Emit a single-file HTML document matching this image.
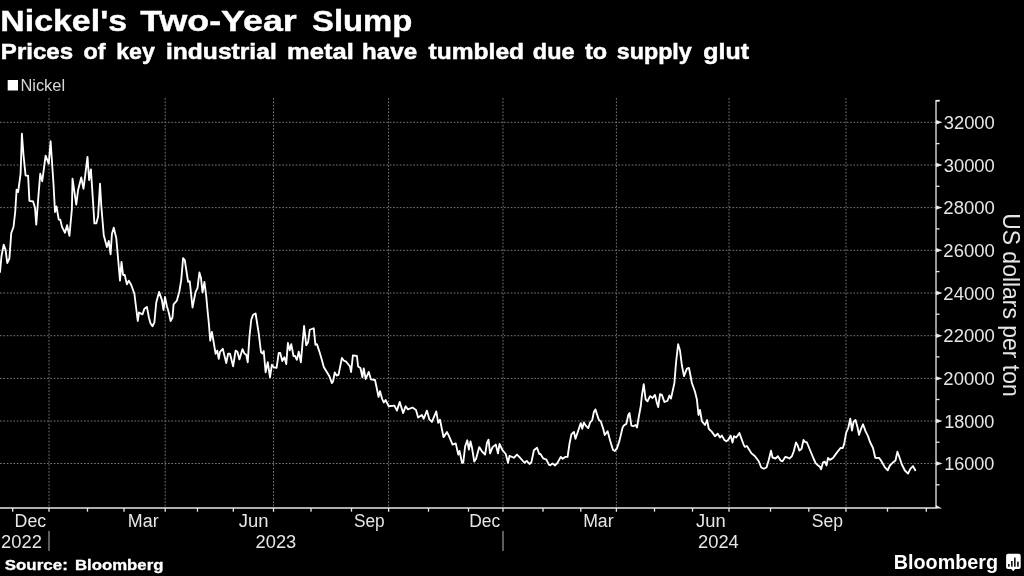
<!DOCTYPE html>
<html><head><meta charset="utf-8"><title>Nickel's Two-Year Slump</title>
<style>html,body{margin:0;padding:0;background:#000;width:1024px;height:576px;overflow:hidden}svg{display:block;will-change:transform}</style></head>
<body>
<svg width="1024" height="576" viewBox="0 0 1024 576">
<rect width="1024" height="576" fill="#000"/>
<g stroke="#757575" stroke-width="1" stroke-dasharray="1.7 1.66" fill="none">
<line x1="0" y1="122.3" x2="936" y2="122.3"/>
<line x1="0" y1="165" x2="936" y2="165"/>
<line x1="0" y1="207.6" x2="936" y2="207.6"/>
<line x1="0" y1="250.3" x2="936" y2="250.3"/>
<line x1="0" y1="293" x2="936" y2="293"/>
<line x1="0" y1="335.7" x2="936" y2="335.7"/>
<line x1="0" y1="378.4" x2="936" y2="378.4"/>
<line x1="0" y1="421" x2="936" y2="421"/>
<line x1="0" y1="463.5" x2="936" y2="463.5"/>
<line x1="49" y1="98.0" x2="49" y2="508"/>
<line x1="165.2" y1="98.0" x2="165.2" y2="508"/>
<line x1="273.5" y1="98.0" x2="273.5" y2="508"/>
<line x1="388.6" y1="98.0" x2="388.6" y2="508"/>
<line x1="503" y1="98.0" x2="503" y2="508"/>
<line x1="616.4" y1="98.0" x2="616.4" y2="508"/>
<line x1="729" y1="98.0" x2="729" y2="508"/>
<line x1="846" y1="98.0" x2="846" y2="508"/>
</g>
<g stroke="#e8e8e8" stroke-width="1.3" fill="none">
<line x1="0" y1="508" x2="936.6" y2="508"/>
<line x1="936" y1="99.9" x2="936" y2="508"/>
<line x1="936" y1="100.5" x2="939.8" y2="100.5"/>
<line x1="49" y1="508" x2="49" y2="511.8"/>
<line x1="165.2" y1="508" x2="165.2" y2="511.8"/>
<line x1="273.5" y1="508" x2="273.5" y2="511.8"/>
<line x1="388.6" y1="508" x2="388.6" y2="511.8"/>
<line x1="503" y1="508" x2="503" y2="511.8"/>
<line x1="616.4" y1="508" x2="616.4" y2="511.8"/>
<line x1="729" y1="508" x2="729" y2="511.8"/>
<line x1="846" y1="508" x2="846" y2="511.8"/>
<line x1="12.7" y1="508" x2="12.7" y2="511.7"/>
<line x1="87.5" y1="508" x2="87.5" y2="511.7"/>
<line x1="124" y1="508" x2="124" y2="511.7"/>
<line x1="197.5" y1="508" x2="197.5" y2="511.7"/>
<line x1="233.3" y1="508" x2="233.3" y2="511.7"/>
<line x1="311" y1="508" x2="311" y2="511.7"/>
<line x1="351.5" y1="508" x2="351.5" y2="511.7"/>
<line x1="428.5" y1="508" x2="428.5" y2="511.7"/>
<line x1="468.5" y1="508" x2="468.5" y2="511.7"/>
<line x1="543" y1="508" x2="543" y2="511.7"/>
<line x1="580.8" y1="508" x2="580.8" y2="511.7"/>
<line x1="654.5" y1="508" x2="654.5" y2="511.7"/>
<line x1="692.5" y1="508" x2="692.5" y2="511.7"/>
<line x1="770.5" y1="508" x2="770.5" y2="511.7"/>
<line x1="808.8" y1="508" x2="808.8" y2="511.7"/>
<line x1="887.5" y1="508" x2="887.5" y2="511.7"/>
<line x1="926.3" y1="508" x2="926.3" y2="511.7"/>
<line x1="936" y1="101.0" x2="939.5" y2="101.0"/>
<line x1="936" y1="143.6" x2="939.5" y2="143.6"/>
<line x1="936" y1="186.3" x2="939.5" y2="186.3"/>
<line x1="936" y1="228.9" x2="939.5" y2="228.9"/>
<line x1="936" y1="271.6" x2="939.5" y2="271.6"/>
<line x1="936" y1="314.2" x2="939.5" y2="314.2"/>
<line x1="936" y1="356.9" x2="939.5" y2="356.9"/>
<line x1="936" y1="399.5" x2="939.5" y2="399.5"/>
<line x1="936" y1="442.2" x2="939.5" y2="442.2"/>
<line x1="936" y1="484.8" x2="939.5" y2="484.8"/>
</g>
<path d="M936 120.1 L942.5 122.3 L936 124.5 Z" fill="#e8e8e8"/>
<path d="M936 162.8 L942.5 165 L936 167.2 Z" fill="#e8e8e8"/>
<path d="M936 205.4 L942.5 207.6 L936 209.79999999999998 Z" fill="#e8e8e8"/>
<path d="M936 248.10000000000002 L942.5 250.3 L936 252.5 Z" fill="#e8e8e8"/>
<path d="M936 290.8 L942.5 293 L936 295.2 Z" fill="#e8e8e8"/>
<path d="M936 333.5 L942.5 335.7 L936 337.9 Z" fill="#e8e8e8"/>
<path d="M936 376.2 L942.5 378.4 L936 380.59999999999997 Z" fill="#e8e8e8"/>
<path d="M936 418.8 L942.5 421 L936 423.2 Z" fill="#e8e8e8"/>
<path d="M936 461.3 L942.5 463.5 L936 465.7 Z" fill="#e8e8e8"/>
<path d="M936 505 L942 508.6 L936 508.6 Z" fill="#e8e8e8"/>
<g font-family="Liberation Sans, sans-serif">
<text x="0.28" y="31.3" font-size="30" font-weight="bold" stroke="#fff" stroke-width="0.4" fill="#fff" textLength="126.79" lengthAdjust="spacingAndGlyphs">Nickel&#39;s</text>
<text x="140.20" y="31.3" font-size="30" font-weight="bold" stroke="#fff" stroke-width="0.4" fill="#fff" textLength="156.56" lengthAdjust="spacingAndGlyphs">Two-Year</text>
<text x="311.99" y="31.3" font-size="30" font-weight="bold" stroke="#fff" stroke-width="0.4" fill="#fff" textLength="100.34" lengthAdjust="spacingAndGlyphs">Slump</text>
<text x="0.88" y="58.6" font-size="22.2" font-weight="bold" stroke="#fff" stroke-width="0.5" fill="#fff" textLength="72.13" lengthAdjust="spacingAndGlyphs">Prices</text>
<text x="83.46" y="58.6" font-size="22.2" font-weight="bold" stroke="#fff" stroke-width="0.5" fill="#fff" textLength="22.03" lengthAdjust="spacingAndGlyphs">of</text>
<text x="116.24" y="58.6" font-size="22.2" font-weight="bold" stroke="#fff" stroke-width="0.5" fill="#fff" textLength="38.61" lengthAdjust="spacingAndGlyphs">key</text>
<text x="165.94" y="58.6" font-size="22.2" font-weight="bold" stroke="#fff" stroke-width="0.5" fill="#fff" textLength="110.80" lengthAdjust="spacingAndGlyphs">industrial</text>
<text x="287.14" y="58.6" font-size="22.2" font-weight="bold" stroke="#fff" stroke-width="0.5" fill="#fff" textLength="66.66" lengthAdjust="spacingAndGlyphs">metal</text>
<text x="362.12" y="58.6" font-size="22.2" font-weight="bold" stroke="#fff" stroke-width="0.5" fill="#fff" textLength="54.94" lengthAdjust="spacingAndGlyphs">have</text>
<text x="428.53" y="58.6" font-size="22.2" font-weight="bold" stroke="#fff" stroke-width="0.5" fill="#fff" textLength="95.59" lengthAdjust="spacingAndGlyphs">tumbled</text>
<text x="532.80" y="58.6" font-size="22.2" font-weight="bold" stroke="#fff" stroke-width="0.5" fill="#fff" textLength="41.74" lengthAdjust="spacingAndGlyphs">due</text>
<text x="585.04" y="58.6" font-size="22.2" font-weight="bold" stroke="#fff" stroke-width="0.5" fill="#fff" textLength="22.12" lengthAdjust="spacingAndGlyphs">to</text>
<text x="616.77" y="58.6" font-size="22.2" font-weight="bold" stroke="#fff" stroke-width="0.5" fill="#fff" textLength="75.03" lengthAdjust="spacingAndGlyphs">supply</text>
<text x="703.24" y="58.6" font-size="22.2" font-weight="bold" stroke="#fff" stroke-width="0.5" fill="#fff" textLength="45.73" lengthAdjust="spacingAndGlyphs">glut</text>
<text x="20.42" y="91.3" font-size="16" fill="#d6d6d6" textLength="44.66" lengthAdjust="spacingAndGlyphs">Nickel</text>
<text x="943.69" y="128.8" font-size="18" fill="#e6e6e6" textLength="51.14" lengthAdjust="spacingAndGlyphs">32000</text>
<text x="943.69" y="171.5" font-size="18" fill="#e6e6e6" textLength="51.14" lengthAdjust="spacingAndGlyphs">30000</text>
<text x="943.37" y="214.1" font-size="18" fill="#e6e6e6" textLength="51.45" lengthAdjust="spacingAndGlyphs">28000</text>
<text x="943.37" y="256.8" font-size="18" fill="#e6e6e6" textLength="51.45" lengthAdjust="spacingAndGlyphs">26000</text>
<text x="943.37" y="299.5" font-size="18" fill="#e6e6e6" textLength="51.45" lengthAdjust="spacingAndGlyphs">24000</text>
<text x="943.37" y="342.2" font-size="18" fill="#e6e6e6" textLength="51.45" lengthAdjust="spacingAndGlyphs">22000</text>
<text x="943.37" y="384.9" font-size="18" fill="#e6e6e6" textLength="51.45" lengthAdjust="spacingAndGlyphs">20000</text>
<text x="944.20" y="427.5" font-size="18" fill="#e6e6e6" textLength="50.22" lengthAdjust="spacingAndGlyphs">18000</text>
<text x="944.20" y="470.0" font-size="18" fill="#e6e6e6" textLength="50.22" lengthAdjust="spacingAndGlyphs">16000</text>
<text x="14.62" y="527" font-size="18" fill="#e6e6e6" textLength="31.52" lengthAdjust="spacingAndGlyphs">Dec</text>
<text x="127.86" y="527" font-size="18" fill="#e6e6e6" textLength="30.73" lengthAdjust="spacingAndGlyphs">Mar</text>
<text x="238.70" y="527" font-size="18" fill="#e6e6e6" textLength="29.74" lengthAdjust="spacingAndGlyphs">Jun</text>
<text x="353.98" y="527" font-size="18" fill="#e6e6e6" textLength="30.70" lengthAdjust="spacingAndGlyphs">Sep</text>
<text x="469.14" y="527" font-size="18" fill="#e6e6e6" textLength="30.99" lengthAdjust="spacingAndGlyphs">Dec</text>
<text x="583.13" y="527" font-size="18" fill="#e6e6e6" textLength="30.41" lengthAdjust="spacingAndGlyphs">Mar</text>
<text x="696.05" y="527" font-size="18" fill="#e6e6e6" textLength="29.59" lengthAdjust="spacingAndGlyphs">Jun</text>
<text x="811.72" y="527" font-size="18" fill="#e6e6e6" textLength="31.22" lengthAdjust="spacingAndGlyphs">Sep</text>
<text x="1.08" y="548" font-size="18" fill="#e6e6e6" textLength="40.74" lengthAdjust="spacingAndGlyphs">2022</text>
<text x="255.59" y="548" font-size="18" fill="#e6e6e6" textLength="40.63" lengthAdjust="spacingAndGlyphs">2023</text>
<text x="698.09" y="548" font-size="18" fill="#e6e6e6" textLength="40.68" lengthAdjust="spacingAndGlyphs">2024</text>
<text x="4.74" y="569.6" font-size="14.6" font-weight="bold" stroke="#fff" stroke-width="0.3" fill="#fff" textLength="63.04" lengthAdjust="spacingAndGlyphs">Source:</text>
<text x="74.97" y="569.6" font-size="14.6" font-weight="bold" stroke="#fff" stroke-width="0.3" fill="#fff" textLength="88.49" lengthAdjust="spacingAndGlyphs">Bloomberg</text>
<text x="893.75" y="569.4" font-size="20.6" font-weight="bold" fill="#fff" textLength="104.28" lengthAdjust="spacingAndGlyphs">Bloomberg</text>
<text transform="translate(1003.4,213.15) rotate(90)" font-size="23.6" fill="#e6e6e6" textLength="183.53" lengthAdjust="spacingAndGlyphs">US dollars per ton</text>
</g>
<g stroke="#9a9a9a" stroke-width="1.2"><line x1="49" y1="531" x2="49" y2="551"/><line x1="503" y1="531" x2="503" y2="551"/></g>
<polyline points="0,272 1.5,256 3.75,244.8 5.6,250 7.25,263 9.4,258.5 11.25,233 13.5,227 15.25,211.5 16.6,189.6 18.1,192 18.75,187.5 20.6,173.75 21.9,133.75 23.5,155 25.6,175.6 28.1,175.6 29.4,200.9 33.1,201.5 35,207.75 36.25,224.6 38.1,200 38.75,192 40.25,173.75 42.25,181.25 45.6,155.6 48.75,163.75 50.6,141.25 53.5,184 55,212 56.5,206.5 58.75,219.6 60.25,219.6 62.1,227.1 65,232.75 67.1,225.25 69.4,235.9 71.9,209 72.5,178.75 76.25,204.6 78.1,190 81.25,177.5 83.5,188.75 87.5,156.9 89.1,180 90.9,169.4 93.1,202.75 94.4,223.4 96.25,223.4 98.1,216.5 100,183.75 101.25,205.25 103.75,235.25 106.9,247.1 108.75,240.9 110.6,254.4 111.9,234 113.75,227.75 116.25,238 118.1,258.75 120,280.6 121.5,261.9 123.1,275 124.75,275 126.9,284.4 128.75,280.6 131.25,285 134.4,293.75 136.25,308.75 137.75,321 139,312.5 142.5,314.4 144.4,308.75 146.9,306.9 149,318 150.6,323.5 152.5,326.25 154.4,322.3 156.25,302.5 159.1,291.9 161.9,300 163.5,310 165,296.9 166.9,306.25 168.75,312.5 170.6,321 172.5,317.5 173.6,304.4 176.9,300.6 179.4,291.25 181.25,280 183.1,258.1 184.75,260 188.1,281.9 189.75,281.25 192.5,307.5 195.6,291.9 197.5,288.1 199.4,272.5 201,278.1 202.5,292.5 204.4,281.9 206.25,296.25 207.5,310 209,325 210.25,340.6 211.9,331.9 213.5,341.25 215.6,353.75 217.25,350.6 218.75,358.75 220,351.9 222.75,348.75 226.25,363.1 228.1,353.75 230,353.75 233.1,366.25 235.6,350.6 237.5,351.9 239.4,359.4 242.5,349.1 244.4,353.5 246.25,354.75 247.75,362.25 249.4,337.25 251.25,319.75 253.1,314.75 255.6,313.5 258.75,333.5 261,352.25 262.5,353.5 263.75,351 265.6,372.25 267.75,362.25 270,377.25 271.9,364.75 273.75,367.25 276.6,367.9 278.75,352.9 280.25,352.9 282.25,361 284.4,357.25 286.25,364.1 287.9,342.9 289.75,350.4 291.25,344.1 293.5,356 295,356 296.9,359.75 298.75,351.6 300.9,362.25 302.5,343.5 304.1,326 306.25,345.4 308.1,342.25 309.75,329.75 313.75,328.25 315.4,344.75 316.9,344.1 320,353.5 321.9,360 323.75,366.9 329.4,376.25 331.9,383.1 333.1,381.25 334.75,372.4 336.6,375.5 338.5,374.9 341.9,357.9 343.75,360.6 346.25,361.7 350,366.5 351.1,372 352.9,355.4 356.9,356 358.1,366.4 360.4,368 362.4,377.3 363.75,368.4 365.7,379 368.75,371.9 371,379.4 375,380 376.9,388.75 378.5,396.9 380,391.25 382.1,398.75 383.75,402.5 385.6,400 388.75,406.25 394.4,405.6 396.9,410.6 399.75,401.9 403.1,413.1 405.6,406.25 407.9,409.4 412.5,407.5 416,410 418.1,417.5 421.9,415 423.75,418.75 426.9,410.6 429.4,419.4 431.9,421.9 436.3,411.4 438.2,422.9 440,419.8 443.5,437.1 447,432.1 448.9,435.9 452.6,444.6 455.75,443.4 458.25,454.6 459.5,450.9 462,462.75 463.25,462.75 465.1,446.5 467.25,440.25 468.9,449.6 470.5,441.5 472,447.75 474.25,461.5 476,459 479.25,447.1 482,451.5 485.1,454.6 487,442.75 488.5,439.6 490.1,453.4 492.6,447.1 495.75,444.6 498,453.4 499.5,444 502.6,450.25 505.75,454 508,462.75 509.5,455.9 513.9,457.75 517,454.6 519.5,457.1 524.5,462.75 526.75,460.9 529.5,464 531.4,462.1 533.9,450.25 537,447.75 539.25,454 540.5,454 543.25,458.4 546.4,459.6 548.9,464.6 550.1,465.25 552.6,463.5 555.1,465.5 557.6,462.6 560.75,456.9 562.6,458.75 565.1,456.9 567.6,456.9 569.5,443.75 571.4,434.4 573.9,431.9 575.5,438.75 577.6,432.5 580.75,423.1 582.25,428.75 583.9,422.5 585.75,425.6 588.25,428.1 590.1,422.5 592.25,420 593.9,411.9 595.4,409.4 597,414.4 598.9,420 600.75,421.25 603,428.1 604.75,435 607.6,431.25 610.1,440.6 613,450 614.9,451 617,448.1 619.5,440.6 622.6,427.5 623.9,425.6 626.4,423.75 628.25,415 629.5,413.1 631.4,425.6 633.25,426.25 635.5,425 637,427.5 638.9,416.25 640.75,406.25 641.9,395.5 643.75,384.25 645.6,399.25 647.5,401.3 650,396.1 652.5,398 655,394.9 656.9,403 658.2,407 660,394.25 661.9,394.9 664.4,402 667.5,400.8 669.4,395.5 671,398.6 674.4,383 676,363 678.1,344.25 680,350.5 681.9,365.5 684,376.1 686.9,368.6 689,368 691.9,383 695,391.75 696.9,399.5 698.5,415 700,410 701.9,421.25 705,425 707.1,420 708.75,428.75 711.9,431.9 715,436.25 717.75,433.75 720,437.5 721.9,435.6 724.4,440 726.25,441.25 728.1,440 730.6,435.6 732.5,442.5 734,436.25 736.25,437.5 739.4,433.1 741.25,438.1 743.75,445 745,446.9 746.9,446 751.25,453.1 755,456.25 758.75,461.25 761.25,467.5 763.75,468.75 766.5,467.5 768.75,460 771,450.6 772.5,457.5 775.6,458.5 777.9,456.25 780.6,460.6 782.5,461.25 785.25,456.9 787.5,457.5 789.4,458.5 791.9,456.25 793.75,451.25 796,442.5 797.5,445 799.4,450.6 801.6,448.75 803.5,440 805,441.9 806.9,442.5 810,450 813.1,457.5 815.6,463.1 817.4,464.9 819.9,466.75 821.1,469.25 823,462.4 824.9,461.75 826.5,465.5 828,458 829.9,459.9 833,458 836.1,453.6 840.5,448 842.75,448 844.25,443.6 846.1,433 848.25,428 850.25,418.6 852,430.5 853.6,421.75 855.5,419.9 857.4,426.75 859,434.9 861.1,428.6 863,424.25 865.5,431.1 868,436.1 869.9,441.75 873,448 875.25,457.75 879.25,458 881.75,461.75 884.9,467.4 887.75,470.25 889.9,465.5 893,462.4 895.5,460.5 897.4,451.75 899.25,456.75 901.75,464.25 904.9,470.5 908,473.6 910.5,468.6 913,466.1 915.25,470.25" fill="none" stroke="#fff" stroke-width="1.85" stroke-linejoin="round" stroke-linecap="round"/>
<rect x="7.7" y="80" width="10.3" height="10.5" fill="#fff"/>
<g><path d="M1008 553.8 h10.8 a1.9 1.9 0 0 1 1.9 1.9 v11.3 a1.9 1.9 0 0 1 -1.9 1.9 h-3.6 l-2 2.4 l-2 -2.4 h-3.2 a1.9 1.9 0 0 1 -1.9 -1.9 v-11.3 a1.9 1.9 0 0 1 1.9 -1.9 z" fill="#fff"/>
<g fill="#000"><rect x="1008.1" y="564" width="1.5" height="2.7"/><rect x="1011.1" y="561" width="1.5" height="5.7"/><rect x="1014.1" y="557.6" width="1.5" height="9.1"/><rect x="1017.2" y="561.6" width="1.5" height="5.1"/></g></g>
</svg>
</body></html>
